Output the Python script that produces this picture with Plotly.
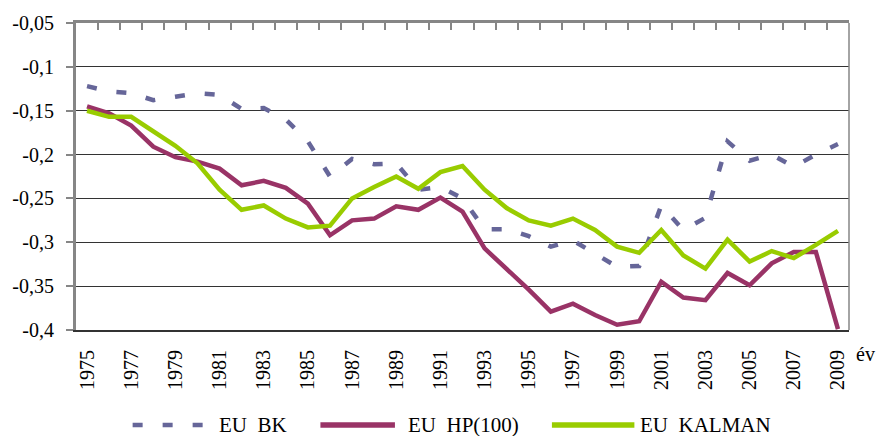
import plotly.graph_objects as go

years = list(range(1975, 2010))
series_names = ["EU\u00a0 BK", "EU\u00a0 HP(100)", "EU\u00a0 KALMAN"]
bk = [-0.122, -0.128, -0.130, -0.138, -0.134, -0.130, -0.132, -0.148, -0.147, -0.160,
      -0.185, -0.225, -0.205, -0.211, -0.210, -0.240, -0.237, -0.250, -0.285, -0.285,
      -0.293, -0.305, -0.298, -0.313, -0.328, -0.327, -0.258, -0.286, -0.272, -0.185,
      -0.207, -0.200, -0.214, -0.200, -0.188]
hp = [-0.145, -0.153, -0.167, -0.191, -0.203, -0.208, -0.216, -0.235, -0.230, -0.238,
      -0.256, -0.292, -0.275, -0.273, -0.259, -0.263, -0.249, -0.265, -0.307, -0.330,
      -0.354, -0.379, -0.370, -0.383, -0.394, -0.390, -0.345, -0.363, -0.366, -0.335,
      -0.349, -0.324, -0.311, -0.311, -0.399]
kalman = [-0.150, -0.157, -0.157, -0.174, -0.190, -0.210, -0.240, -0.263, -0.258, -0.273,
          -0.283, -0.281, -0.250, -0.237, -0.225, -0.239, -0.220, -0.213, -0.240, -0.261,
          -0.275, -0.281, -0.273, -0.286, -0.305, -0.312, -0.286, -0.315, -0.330, -0.297,
          -0.322, -0.310, -0.318, -0.303, -0.287]
y_tick_vals = [-0.05, -0.1, -0.15, -0.2, -0.25, -0.3, -0.35, -0.4]
y_tick_text = ["-0,05", "-0,1", "-0,15", "-0,2", "-0,25", "-0,3", "-0,35", "-0,4"]
x_axis_title = "év"

colors = ["#666699", "#993366", "#99CC00"]
dashes = ["10px,20px", "solid", "solid"]
FONT = "Liberation Serif, Times New Roman, serif"
L, R, T, B = 71, 39, 23, 106
W, H = 888, 436
pw, ph = W - L - R, H - T - B

xs = list(range(len(years)))
fig = go.Figure()
for name, vals, c, d in zip(series_names, [bk, hp, kalman], colors, dashes):
    fig.add_trace(go.Scatter(x=xs, y=vals, mode="lines", name=name,
                             line=dict(color=c, width=4.5, dash=d),
                             showlegend=False))
# dummy trace to activate the top category axis
fig.add_trace(go.Scatter(x=[0], y=[None], xaxis="x2", yaxis="y",
                         showlegend=False, hoverinfo="skip"))

n = len(years)
fig.update_layout(
    width=W, height=H,
    margin=dict(l=L, r=R, t=T, b=B),
    plot_bgcolor="white", paper_bgcolor="white",
    font=dict(family=FONT, size=20, color="black"),
    xaxis=dict(range=[-0.5, n - 0.5], tickvals=xs[::2],
               ticktext=[str(y) for y in years[::2]], tickangle=-90,
               showgrid=False, zeroline=False, showline=True,
               linecolor="#333333", linewidth=2, ticks="",
               ticklabelstandoff=10,
               tickfont=dict(family=FONT, size=20, color="black")),
    xaxis2=dict(range=[-0.5, n - 0.5], overlaying="x", side="top",
                tickvals=[i + 0.5 for i in range(n)], showticklabels=False,
                ticks="inside", ticklen=7, tickwidth=2, tickcolor="#868686",
                showline=True, linecolor="#868686", linewidth=3,
                showgrid=False, zeroline=False),
    yaxis=dict(range=[-0.4, -0.05], tickvals=y_tick_vals, ticktext=y_tick_text,
               showgrid=True, gridcolor="#333333", gridwidth=1,
               zeroline=False, showline=True, linecolor="#868686", linewidth=3,
               ticks="outside", ticklen=7, tickwidth=2, tickcolor="#868686",
               ticklabelstandoff=8,
               tickfont=dict(family=FONT, size=20, color="black")),
)

# right plot border
fig.add_shape(type="line", xref="paper", yref="paper", x0=1, x1=1, y0=0, y1=1,
              line=dict(color="#868686", width=1.5))

def px_x(p):
    return (p - L) / pw

def px_y(p):
    return (H - B - p) / ph

# x-axis title
fig.add_annotation(x=px_x(877), y=px_y(367), xref="paper", yref="paper",
                   text=x_axis_title, showarrow=False,
                   font=dict(family=FONT, size=20, color="black"))

# custom legend
leg_y = px_y(425)
leg_lines = [(128, 200), (317, 392), (550, 633)]
leg_text_x = [213, 403, 637]
for (x0, x1), tx, name, c, d in zip(leg_lines, leg_text_x, series_names, colors, dashes):
    fig.add_shape(type="line", xref="paper", yref="paper",
                  x0=px_x(x0), x1=px_x(x1), y0=leg_y, y1=leg_y,
                  line=dict(color=c, width=5.5 if d == "solid" else 4.5, dash=d))
    fig.add_annotation(x=px_x(tx), y=leg_y, xref="paper", yref="paper",
                       text=name, showarrow=False, xanchor="left", yanchor="middle",
                       font=dict(family=FONT, size=21, color="black"))

fig.write_html("out.html", config={"displayModeBar": False},
               post_script="document.body.style.margin='0';document.body.style.overflow='hidden';")
